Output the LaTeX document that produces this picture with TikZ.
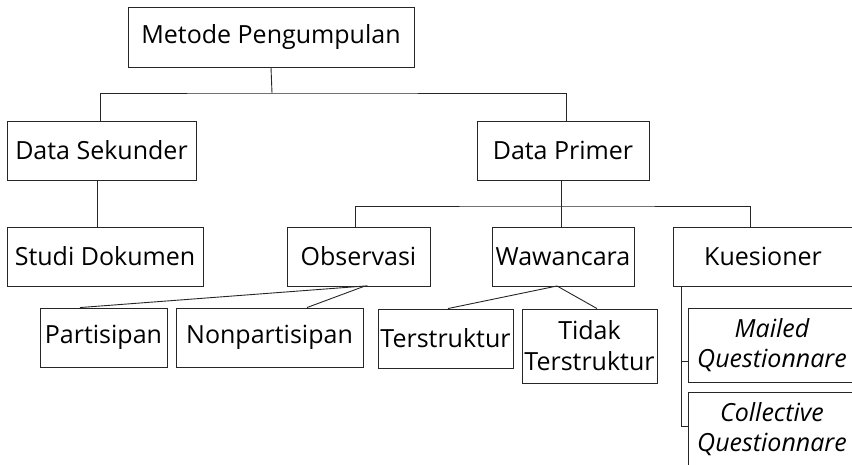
\documentclass[tikz,border=0pt]{standalone}
\usepackage{fontspec}
\setmainfont{Open Sans}
\begin{document}
\begin{tikzpicture}[x=1pt,y=-1pt,
  box/.style={draw=black!85, line width=0.9pt, inner sep=0pt, align=center,
    font=\fontsize{25}{31}\selectfont},
  ibox/.style={box, font=\fontsize{25}{30}\selectfont\itshape},
  conn/.style={draw=black!85, line width=0.9pt}]
\useasboundingbox (0,0) rectangle (852,465);
\clip (0,0) rectangle (852,465);
\node[box, minimum width=286pt, minimum height=60pt] (met) at (271,37) {Metode Pengumpulan};
\node[box, minimum width=189pt, minimum height=59pt] (sek) at (101.5,150.5) {Data Sekunder};
\node[box, minimum width=196pt, minimum height=59pt] (stu) at (105,256.5) {Studi Dokumen};
\node[box, minimum width=172pt, minimum height=59pt] (pri) at (563,150.5) {Data Primer};
\node[box, minimum width=143pt, minimum height=59pt] (obs) at (358.5,256.5) {Observasi};
\node[box, minimum width=142pt, minimum height=59pt] (waw) at (563,256.5) {Wawancara};
\node[box, minimum width=180pt, minimum height=59pt] (kue) at (763,256.5) {Kuesioner};
\node[box, minimum width=127pt, minimum height=59pt] (par) at (103.5,337.5) {Partisipan};
\node[box, minimum width=187pt, minimum height=59pt] (non) at (269.5,337.5) {Nonpartisipan};
\node[box, minimum width=135pt, minimum height=59pt] (ter) at (445.5,338.5) {Terstruktur};
\node[box, minimum width=135pt, minimum height=74pt] (tid) at (589.5,346) {Tidak\\Terstruktur};
\node[ibox, minimum width=168pt, minimum height=74pt] (mai) at (772,345) {Mailed\\Questionnare};
\node[ibox, minimum width=168pt, minimum height=74pt] (col) at (772,429) {Collective\\Questionnare};
% connectors
\coordinate (j1) at (272,93);
\draw[conn] (met.south) -- (j1);
\draw[conn] (sek.north -| 100,0) |- (j1) -| (pri.north -| 566,0);
\draw[conn] (sek.south -| 97,0) -- (stu.north -| 97,0);
\coordinate (j2) at (561,206);
\draw[conn] (pri.south -| 561,0) -- (j2);
\draw[conn] (obs.north -| 355,0) |- (j2) -| (kue.north -| 750,0);
\draw[conn] (j2) -- (waw.north -| 561,0);
\coordinate (o1) at (365,286);
\draw[conn] (par.north -| 80,0) -- (o1) -- (non.north -| 307,0);
\coordinate (w1) at (557,286);
\draw[conn] (ter.north -| 448,0) -- (w1) -- (tid.north -| 597,0);
\coordinate (k1) at (681,286);
\draw[conn] (k1) |- (col.west |- 0,426);
\draw[conn] (k1 |- 0,361) -- (mai.west |- 0,361);
\end{tikzpicture}
\end{document}
